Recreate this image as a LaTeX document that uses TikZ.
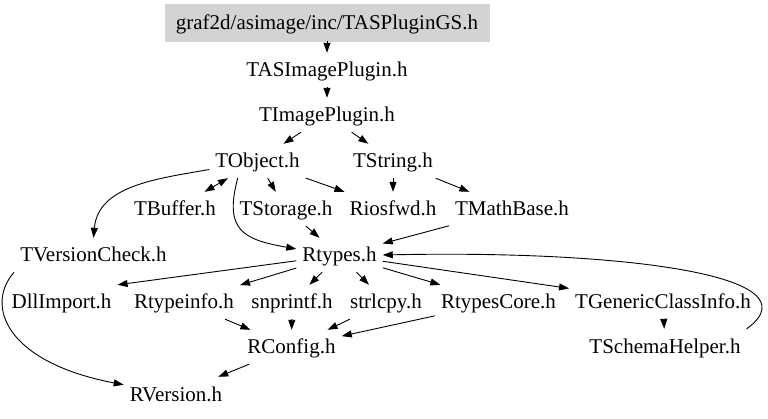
\documentclass[tikz,border=0pt]{standalone}
\usepackage{fontspec}
\setmainfont{Liberation Serif}
\usetikzlibrary{arrows.meta}
\definecolor{rootgray}{RGB}{211,211,211}
\begin{document}
\begin{tikzpicture}[x=1pt,y=1pt,
  hdr/.style={inner xsep=6pt, inner ysep=5pt, text height=19pt, text depth=5pt, font=\fontsize{21pt}{24pt}\selectfont},
  rootbox/.style={hdr, fill=rootgray, draw=rootgray, minimum width=324pt, minimum height=37pt},
  incl/.style={draw=black, line width=0.9pt, -{Triangle[length=10pt,width=7pt]}},
  biincl/.style={draw=black, line width=0.9pt, {Triangle[length=10pt,width=7pt]}-{Triangle[length=10pt,width=7pt]}}]
\useasboundingbox (0,0) rectangle (768,-419);
% nodes
\node[rootbox] (root) at (327,-22.5) {graf2d/asimage/inc/TASPluginGS.h};
\node[hdr] (tasip) at (327,-70) {TASImagePlugin.h};
\node[hdr] (timp) at (327,-115) {TImagePlugin.h};
\node[hdr] (tobj) at (257.5,-161) {TObject.h};
\node[hdr] (tstr) at (393,-161) {TString.h};
\node[hdr] (tbuf) at (175,-209) {TBuffer.h};
\node[hdr] (tsto) at (286,-209) {TStorage.h};
\node[hdr] (rios) at (393,-209) {Riosfwd.h};
\node[hdr] (tmath) at (512,-209) {TMathBase.h};
\node[hdr] (tvc) at (93.5,-255) {TVersionCheck.h};
\node[hdr] (rtypes) at (339.5,-255) {Rtypes.h};
\node[hdr] (dll) at (61.5,-302) {DllImport.h};
\node[hdr] (rti) at (184,-302) {Rtypeinfo.h};
\node[hdr] (snp) at (292,-302) {snprintf.h};
\node[hdr] (strl) at (386,-302) {strlcpy.h};
\node[hdr] (rcore) at (498.5,-302) {RtypesCore.h};
\node[hdr] (tgci) at (663,-302) {TGenericClassInfo.h};
\node[hdr] (rconf) at (291.5,-347) {RConfig.h};
\node[hdr] (tsh) at (665,-346) {TSchemaHelper.h};
\node[hdr] (rver) at (176,-394) {RVersion.h};
% edges
\draw[incl] (root) -- (tasip);
\draw[incl] (tasip) -- (timp);
\draw[incl] (timp) -- (tobj);
\draw[incl] (timp) -- (tstr);
\draw[incl] (tobj.190) to[out=190,in=85] (tvc.north);
\draw[biincl] (tobj) -- (tbuf);
\draw[incl] (tobj) -- (tsto);
\draw[incl] (tobj) -- (rios);
\draw[incl] (tobj.-139) to[out=-105,in=170,looseness=1.5] (rtypes.172);
\draw[incl] (tstr) -- (rios);
\draw[incl] (tstr) -- (tmath);
\draw[incl] (tsto) -- (rtypes);
\draw[incl] (tmath) -- (rtypes);
\draw[incl] (tsh.north east) .. controls (820,-275) and (620,-250) .. (rtypes.east);
\draw[incl] (rtypes) -- (dll.north east);
\draw[incl] (rtypes) -- (rti);
\draw[incl] (rtypes) -- (snp);
\draw[incl] (rtypes) -- (strl);
\draw[incl] (rtypes) -- (rcore);
\draw[incl] (rtypes) -- (tgci);
\draw[incl] (tvc.south west) .. controls (-15,-305) and (5,-362) .. (rver.170);
\draw[incl] (rti) -- (rconf);
\draw[incl] (snp) -- (rconf);
\draw[incl] (strl) -- (rconf);
\draw[incl] (rcore) -- (rconf);
\draw[incl] (tgci) -- (tsh);
\draw[incl] (rconf) -- (rver);
\end{tikzpicture}
\end{document}
